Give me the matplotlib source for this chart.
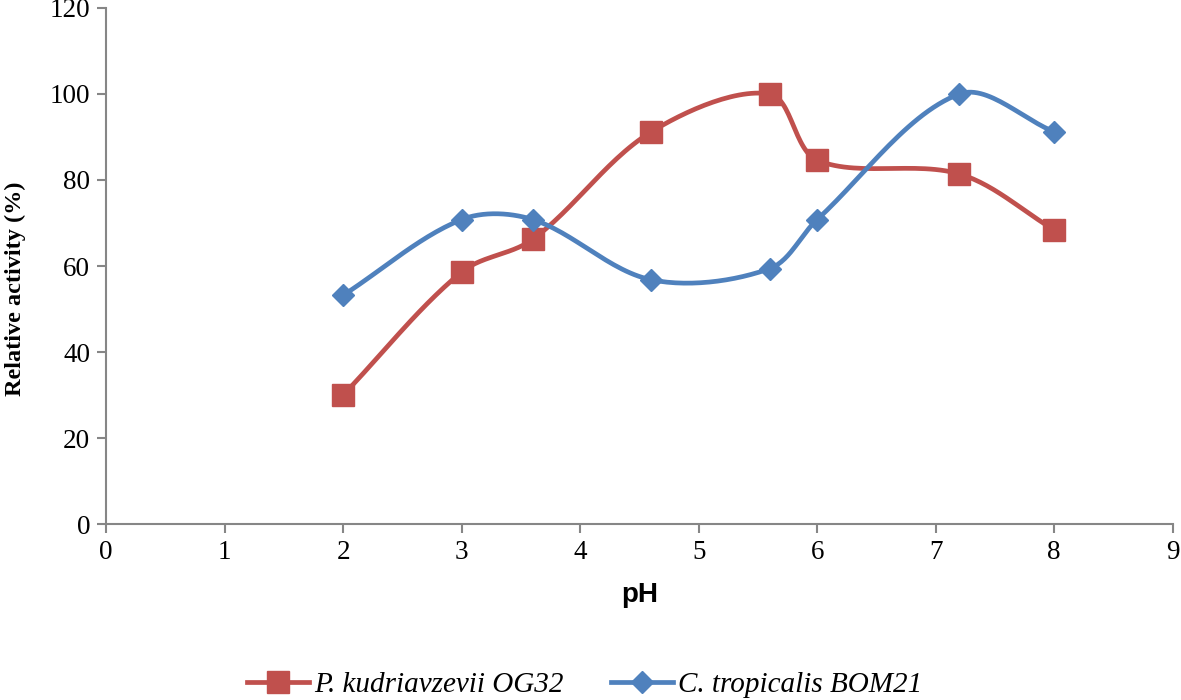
import matplotlib
matplotlib.use("Agg")
import matplotlib.pyplot as plt
import numpy as np

# data
ph = [2, 3, 3.6, 4.6, 5.6, 6, 7.2, 8]
kudriavzevii = [30, 58.6, 66.2, 91.2, 100, 84.6, 81.4, 68.4]
tropicalis = [53.2, 70.8, 70.8, 56.8, 59.4, 70.8, 100, 91.2]
label_red = "P. kudriavzevii OG32"
label_blue = "C. tropicalis BOM21"

red = "#C0504D"
blue = "#4F81BD"
grey = "#868686"


def smooth(x, y, sx=118.6, sy=4.32, n=30):
    # excel-like smoothed line: bezier, tangents weighted by chord length (screen units)
    p = np.column_stack([np.asarray(x, float) * sx, np.asarray(y, float) * sy])
    p = np.vstack([p[0], p, p[-1]])
    t = np.linspace(0, 1, n)[:, None]
    out = []
    for i in range(1, len(p) - 2):
        p0, p1, p2, p3 = p[i - 1], p[i], p[i + 1], p[i + 2]
        d01 = np.linalg.norm(p1 - p0)
        d12 = np.linalg.norm(p2 - p1)
        d23 = np.linalg.norm(p3 - p2)
        c1 = p1 + (p2 - p0) * (d12 / (d01 + d12) / 3 if d01 + d12 else 0)
        c2 = p2 - (p3 - p1) * (d12 / (d12 + d23) / 3 if d12 + d23 else 0)
        b = (1 - t) ** 3 * p1 + 3 * (1 - t) ** 2 * t * c1 + 3 * (1 - t) * t ** 2 * c2 + t ** 3 * p2
        out.append(b)
    out = np.vstack(out)
    return out[:, 0] / sx, out[:, 1] / sy


fig = plt.figure(figsize=(11.81, 7.0), dpi=100)
ax = fig.add_axes([0.0898, 0.2514, 0.9032, 0.7372])

for xv, yv, c, m, ms, lab in [(ph, kudriavzevii, red, "s", 16.5, label_red),
                              (ph, tropicalis, blue, "D", 11.5, label_blue)]:
    lx, ly = smooth(xv, yv)
    ax.plot(lx, ly, color=c, lw=3.4, solid_capstyle="round", zorder=2)
    ax.plot(xv, yv, ls="none", marker=m, ms=ms, color=c, zorder=3)
    ax.plot([], [], color=c, lw=3.4, marker=m, ms=ms, label=lab)

ax.set_xlim(0, 9)
ax.set_ylim(0, 120)
ax.set_xticks(range(0, 10))
ax.set_yticks(range(0, 121, 20))
for s in ["top", "right"]:
    ax.spines[s].set_visible(False)
for s in ["left", "bottom"]:
    ax.spines[s].set_color(grey)
    ax.spines[s].set_linewidth(1.5)
ax.tick_params(colors=grey, width=1.5, length=6.5, labelcolor="black",
               labelsize=19.5, pad=5)
for lbl in ax.get_xticklabels() + ax.get_yticklabels():
    lbl.set_fontfamily("Liberation Serif")

ax.set_xlabel("pH", fontsize=20, fontweight="bold", family="Liberation Sans")
ax.xaxis.set_label_coords(0.5, -0.113)
ax.set_ylabel("Relative activity (%)", fontsize=17.5, fontweight="bold",
              family="Liberation Serif")
ax.yaxis.set_label_coords(-0.075, 0.455)

leg = fig.legend(loc="center", bbox_to_anchor=(0.495, 0.022), ncol=2, frameon=False,
                 prop={"family": "Liberation Serif", "style": "italic", "size": 21},
                 handlelength=2.15, columnspacing=1.6, handletextpad=0.17)

fig.savefig("out.png", dpi=100)
